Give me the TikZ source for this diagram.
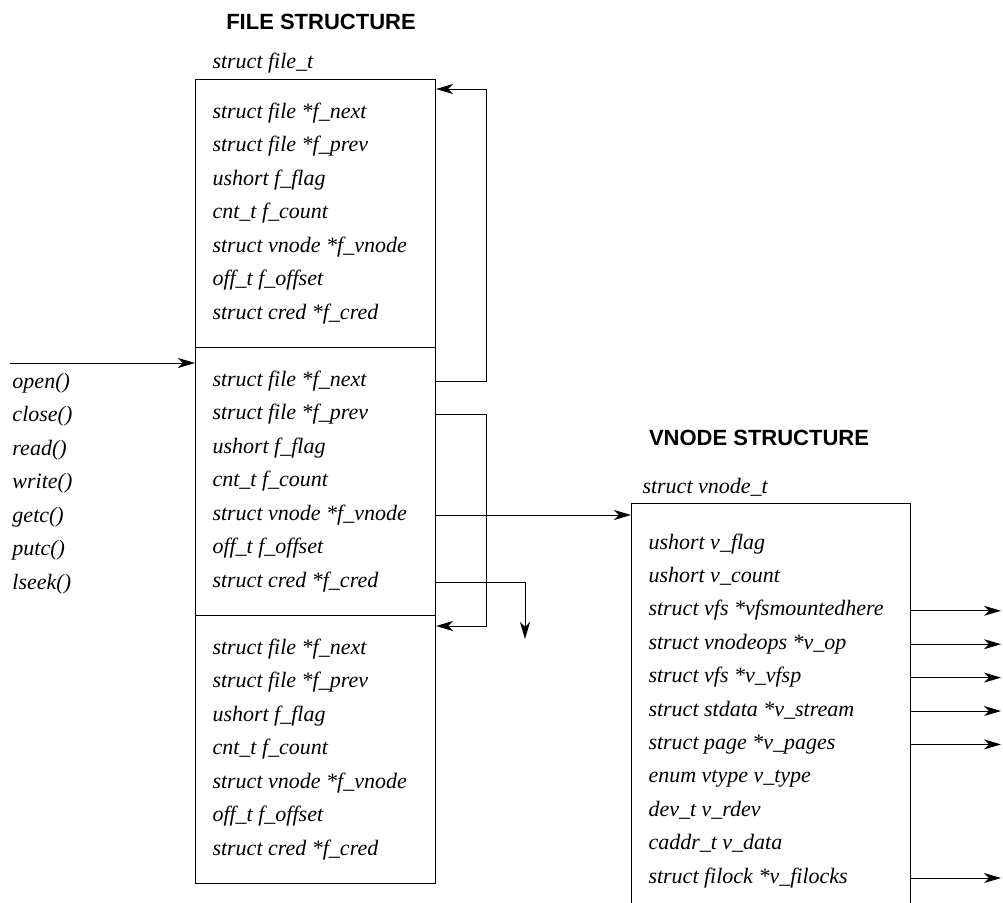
\documentclass[tikz,border=0pt]{standalone}
\usepackage{fontspec}
\setmainfont{Liberation Serif}
\setsansfont{Liberation Sans}
\usetikzlibrary{arrows.meta}
\begin{document}
\begin{tikzpicture}[x=1pt,y=-1pt,
  line width=1pt,
  ptr/.style={-{Stealth[length=17pt,width=10pt,inset=5pt]}},
  field/.style={anchor=west,inner sep=0pt,font=\fontsize{22}{24}\selectfont\itshape,
    text height=15pt,text depth=5pt},
  title/.style={inner sep=0pt,font=\fontsize{22}{24}\selectfont\sffamily\bfseries},
  slot/.style={draw,anchor=north west,minimum width=240pt,minimum height=268pt,inner sep=0pt}]
\clip (0,0) rectangle (1003,902);

% file table: three file entries stacked
\node[title] (ftitle) at (321,22) {FILE STRUCTURE};
\node[field] (ftype) at (212,63) {struct file\_t};
\node[slot] (f1) at (195,79) {};
\node[slot] (f2) at (195,347) {};
\node[slot] (f3) at (195,615) {};

\foreach \b/\y in {a/113,b/381,c/649}{
  \node[field] (\b next) at (212,\y) {struct file *f\_next};
  \node[field] (\b prev) at (212,\y+33.5) {struct file *f\_prev};
  \node[field] (\b flag) at (212,\y+67) {ushort f\_flag};
  \node[field] (\b count) at (212,\y+100.5) {cnt\_t f\_count};
  \node[field] (\b vnode) at (212,\y+134) {struct vnode *f\_vnode};
  \node[field] (\b offset) at (212,\y+167.5) {off\_t f\_offset};
  \node[field] (\b cred) at (212,\y+201) {struct cred *f\_cred};
}

% system calls operating on the file table
\foreach \n/\t [count=\i from 0] in {open/open(),close/close(),read/read(),write/write(),getc/getc(),putc/putc(),lseek/lseek()}{
  \node[field] (\n) at (12,383+33.5*\i) {\t};
}
\coordinate (callin) at (10,363);
\draw[ptr] (callin) -- (f2.west |- callin);

% vnode structure, open at the bottom
\node[title] (vtitle) at (759,438) {VNODE STRUCTURE};
\node[field] (vtype) at (642,488) {struct vnode\_t};
\node[inner sep=0pt,anchor=north west,minimum width=278pt,minimum height=420pt] (vbox) at (631,503) {};
\draw (vbox.south west) -- (vbox.north west) -- (vbox.north east) -- (vbox.south east);

\foreach \n/\t [count=\i from 0] in {vflag/ushort v\_flag,vcount/ushort v\_count,
  vmnt/struct vfs *vfsmountedhere,vop/struct vnodeops *v\_op,vvfsp/struct vfs *v\_vfsp,
  vstream/struct stdata *v\_stream,vpages/struct page *v\_pages,vvtype/enum vtype v\_type,
  vrdev/dev\_t v\_rdev,vdata/caddr\_t v\_data,vlocks/struct filock *v\_filocks}{
  \node[field] (\n) at (648,544+33.4*\i) {\t};
}

% links between the file entries
\draw[ptr] (f2.east |- bnext) -- ++(50,0) |- ([yshift=-10pt]f1.north east);
\draw[ptr] (f2.east |- bprev) -- ++(50,0) |- ([yshift=-11pt]f3.north east);
\draw[ptr] (f2.east |- bvnode) -- (vbox.west |- bvnode);
\draw[ptr] (f2.east |- bcred) -- ++(89,0) -- ++(0,57);

% outgoing vnode pointers
\coordinate (vout) at (1001,0);
\foreach \n in {vmnt,vop,vvfsp,vstream,vpages,vlocks}{
  \draw[ptr] (vbox.east |- \n) -- (vout |- \n);
}
\end{tikzpicture}
\end{document}
